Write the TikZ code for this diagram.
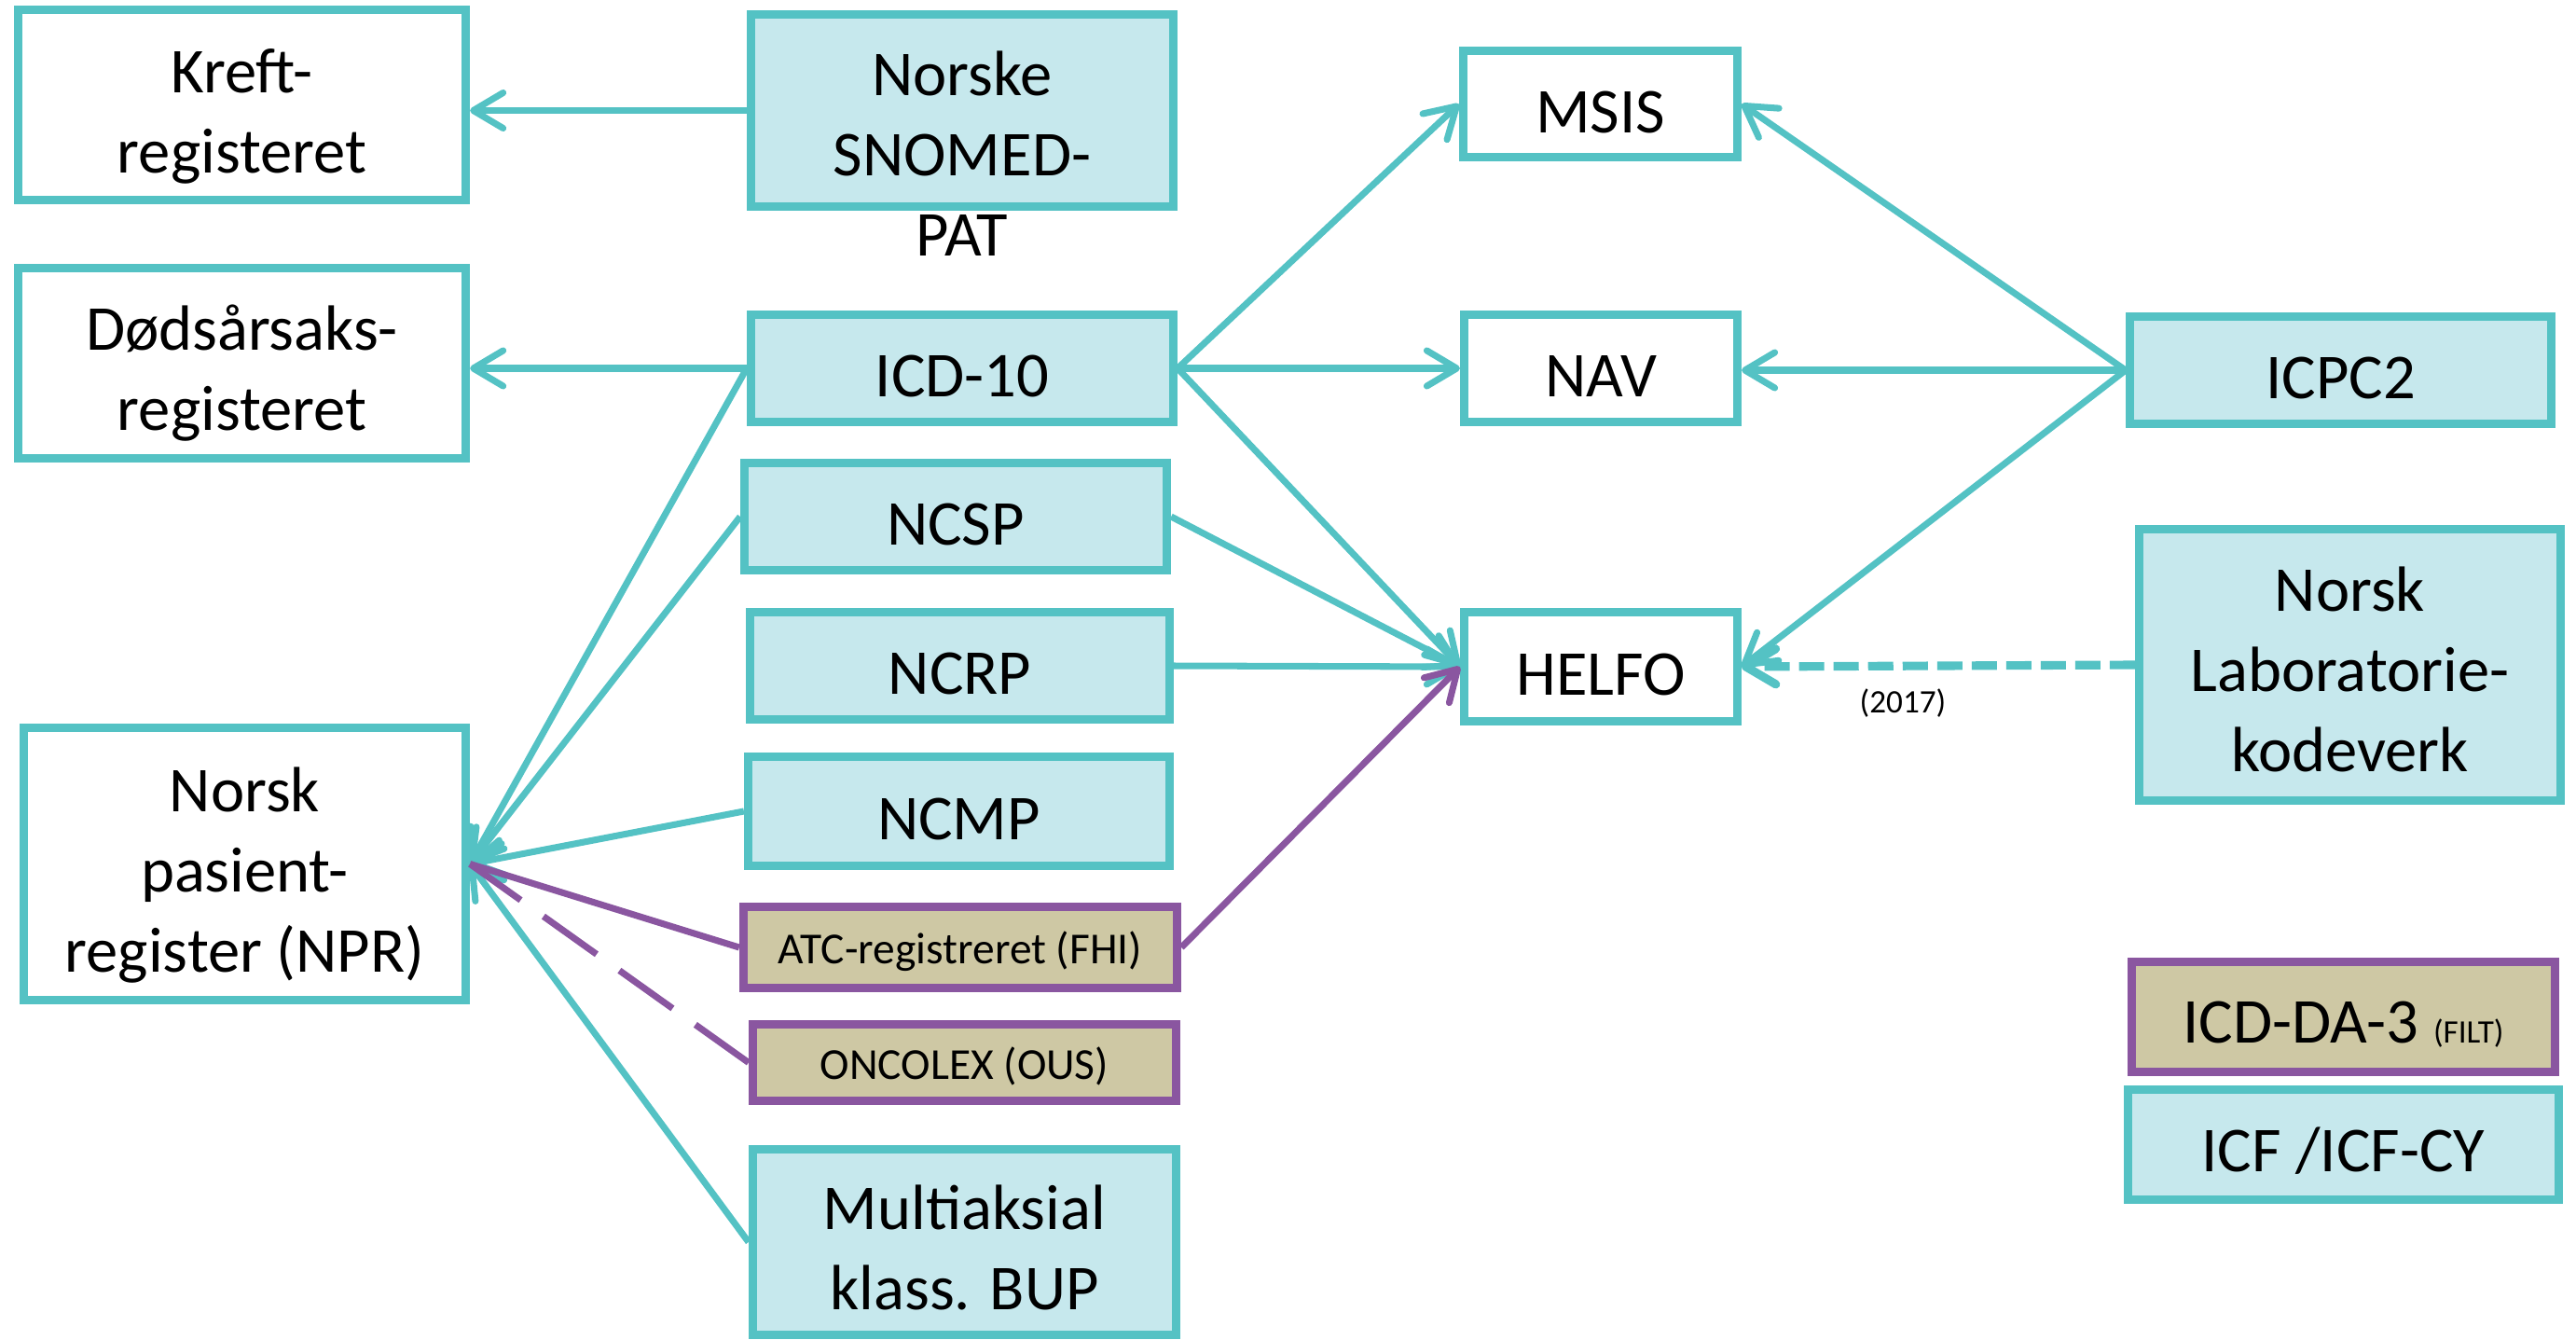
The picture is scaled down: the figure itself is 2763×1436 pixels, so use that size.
\documentclass[tikz,border=0pt]{standalone}
\usepackage{fontspec}
\setmainfont{Carlito}
\usetikzlibrary{arrows.meta, positioning, calc}

\definecolor{turkis}{RGB}{84,194,196}
\definecolor{lysbla}{RGB}{198,232,237}
\definecolor{sand}{RGB}{206,200,164}
\definecolor{lilla}{RGB}{138,86,160}

\newcommand{\boksfont}{\fontsize{19.5}{24.5}\selectfont}
\newcommand{\litenfont}{\fontsize{13.5}{16}\selectfont}
\newcommand{\bittefont}{\fontsize{10}{12}\selectfont}
\newcommand{\opp}[1]{\rule{0pt}{#1}}

\begin{document}
\begin{tikzpicture}[x=0.01cm, y=-0.01cm,
    boks/.style={draw=turkis, line width=2.55pt, align=center, inner sep=0pt, font=\boksfont,
        execute at begin node={\rule{0pt}{0.9em}}},
    registerboks/.style={boks, fill=white},
    kodeverk/.style={boks, fill=lysbla},
    lokal/.style={boks, draw=lilla, fill=sand, font=\litenfont},
    kobling/.style={draw=turkis, line width=2pt, -{Straight Barb[length=3.2mm, width=3.8mm, round]}},
    lkobling/.style={kobling, draw=lilla},
    aarstall/.style={inner sep=0pt, font=\bittefont}]
\useasboundingbox (0,0) rectangle (2763,1436);

% registre
\node (kreft) [registerboks, minimum width=4.80cm, minimum height=2.04cm] at (259.5,112.5) {\opp{0.72cm}Kreft-\\registeret};
\node (dods) [registerboks, minimum width=4.80cm, minimum height=2.04cm] at (259.5,389.5) {\opp{0.70cm}Dødsårsaks-\\registeret};
\node (npr) [registerboks, minimum width=4.74cm, minimum height=2.92cm] at (262.5,926.5) {\opp{0.72cm}Norsk\\pasient-\\register (NPR)};
\node (msis) [registerboks, minimum width=2.94cm, minimum height=1.14cm] at (1716.5,111.5) {MSIS};
\node (nav) [registerboks, minimum width=2.93cm, minimum height=1.15cm] at (1717,395) {NAV};
\node (helfo) [registerboks, minimum width=2.93cm, minimum height=1.17cm] at (1717,715) {HELFO};

% kodeverk
\node (snomed) [kodeverk, minimum width=4.53cm, minimum height=2.06cm] at (1032,118.5) {};
\node (snomedtekst) [align=center, inner sep=0pt, font=\boksfont] at (1032,165) {Norske\\SNOMED-\\PAT};
\node (icd) [kodeverk, minimum width=4.53cm, minimum height=1.15cm] at (1032,395) {ICD-10};
\node (ncsp) [kodeverk, minimum width=4.53cm, minimum height=1.15cm] at (1025,554) {NCSP};
\node (ncrp) [kodeverk, minimum width=4.50cm, minimum height=1.15cm] at (1029.5,714) {NCRP};
\node (ncmp) [kodeverk, minimum width=4.52cm, minimum height=1.17cm] at (1028.5,870) {NCMP};
\node (atc) [lokal, minimum width=4.65cm, minimum height=0.87cm] at (1030,1016) {ATC-registreret (FHI)};
\node (oncolex) [lokal, minimum width=4.54cm, minimum height=0.82cm] at (1034.5,1139.5) {ONCOLEX (OUS)};
\node (multi) [kodeverk, minimum width=4.54cm, minimum height=1.99cm] at (1034.5,1332) {\opp{0.60cm}Multiaksial\\klass. BUP};
\node (icpc) [kodeverk, minimum width=4.52cm, minimum height=1.15cm] at (2510.5,397) {ICPC2};
\node (lab) [kodeverk, minimum width=4.52cm, minimum height=2.91cm] at (2520.5,713) {\opp{0.58cm}Norsk\\Laboratorie-\\kodeverk};
\node (icdda) [lokal, font=\boksfont, minimum width=4.54cm, minimum height=1.18cm] at (2513.5,1090.5) {ICD-DA-3 {\bittefont(FILT)}};
\node (icf) [kodeverk, below=0.1cm of icdda, minimum width=4.62cm, minimum height=1.18cm] {ICF /ICF-CY};

% til venstre
\draw [kobling] (snomed.west) -- (snomed.west -| kreft.east);
\draw [kobling] (icd.west) -- (icd.west -| dods.east);
\draw [kobling] (icd.west) -- (npr.east);
\draw [kobling] (ncsp.west) -- (npr.east);
\draw [kobling] (ncmp.west) -- (npr.east);
\draw [kobling] (multi.west) -- (npr.east);
\draw [draw=lilla, line width=2pt] (atc.west) -- (npr.east);
\draw [draw=lilla, line width=2pt, dash pattern=on 0.7cm off 0.3cm] (oncolex.west) -- (npr.east);

% til hoyre
\draw [kobling] (icd.east) -- (msis.west);
\draw [kobling] (icd.east) -- (icd.east -| nav.west);
\draw [kobling] (icd.east) -- (helfo.west);
\draw [kobling] (ncsp.east) -- (helfo.west);
\draw [kobling] (ncrp.east) -- (helfo.west);
\draw [lkobling] (atc.east) -- (helfo.west);
\draw [kobling] (icpc.west) -- (msis.east);
\draw [kobling] (icpc.west) -- (icpc.west -| nav.east);
\draw [kobling] (icpc.west) -- (helfo.east);
\draw [kobling, line width=2.6pt, dash pattern=on 0.27cm off 0.1cm] (lab.west) -- (helfo.east)
    node [aarstall, pos=0.59, below=0.2cm] {(2017)};

\end{tikzpicture}
\end{document}
